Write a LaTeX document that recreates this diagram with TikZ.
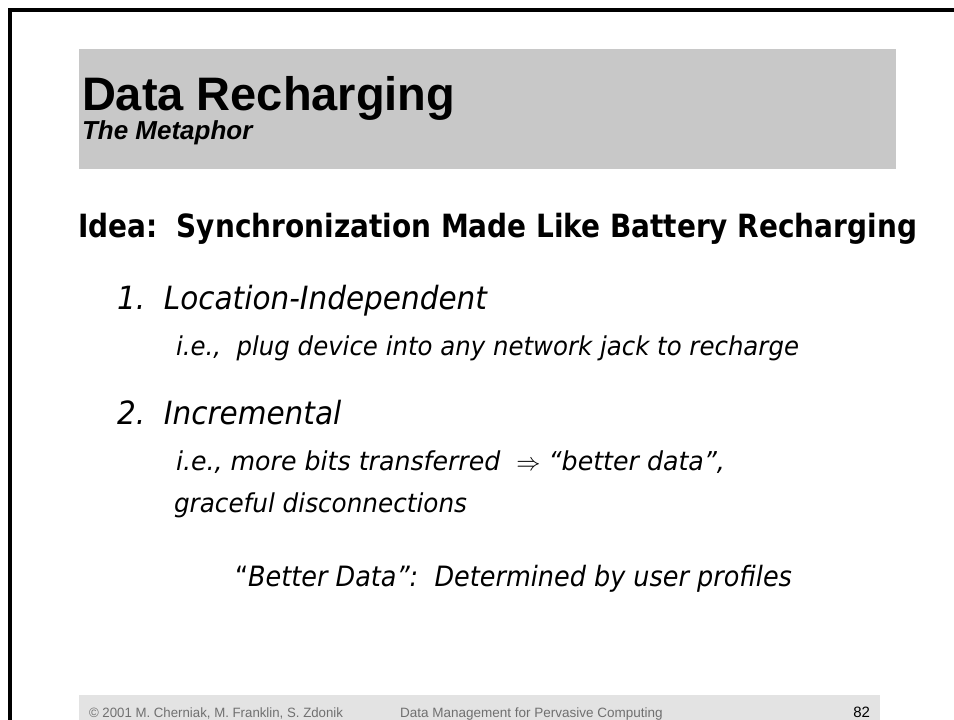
\documentclass[tikz,border=0pt]{standalone}
\usepackage{fontspec}
\usepackage{graphicx}
\setmainfont{DejaVu Sans}
\newfontfamily\arialfont{Liberation Sans}
\newcommand\fitw[2]{\resizebox{#1}{\height}{#2}}
\newlength\natw
\newcommand\itemfont{\itshape\fontsize{32}{38}\selectfont}
\newcommand\subfont{\itshape\fontsize{26}{31}\selectfont}
\newcommand\betfont{\fontsize{28}{34}\selectfont}
\definecolor{titlegray}{HTML}{C8C8C8}
\definecolor{footgray}{HTML}{E3E3E3}
\definecolor{foottext}{HTML}{707070}
\tikzset{
  txt/.style={inner sep=0pt, outer sep=0pt, anchor=base west},
  frameline/.style={line width=3.2pt, black},
}
\begin{document}
% horizontal factors (Comic-like widths) calibrated on measured lines
\settowidth\natw{\itemfont 1.\ \ Location-Independent}%
\pgfmathsetmacro\fitem{370/\natw}%
\settowidth\natw{\subfont i.e.,\ \ plug device into any network jack to recharge}%
\pgfmathsetmacro\fsub{623/\natw}%
\begin{tikzpicture}[x=1pt,y=-1pt]
\useasboundingbox (0,0) rectangle (954,720);
\fill[white] (0,0) rectangle (954,720);
% slide frame (cut off at right and bottom)
\draw[frameline] (10,720) -- (10,10) -- (960,10);
% title band
\fill[titlegray] (79,49) rectangle (896,169);
\node[txt] (title) at (82,110) {\arialfont\bfseries\fontsize{47}{56}\selectfont Data Recharging};
\node[txt] (sub) at (82,139) {\arialfont\bfseries\itshape\fontsize{26}{30}\selectfont The Metaphor};
% body
\node[txt] (idea) at (78,237) {\fitw{839pt}{\bfseries\fontsize{32}{38}\selectfont Idea:\ \ Synchronization Made Like Battery Recharging}};
\node[txt] (item1) at (117,309) {\scalebox{\fitem}[1]{\itemfont 1.\ \ Location-Independent}};
\node[txt] (plug) at (176,355) {\scalebox{\fsub}[1]{\subfont i.e.,\ \ plug device into any network jack to recharge}};
\node[txt] (item2) at (117,424) {\scalebox{\fitem}[1]{\itemfont 2.\ \ Incremental}};
\node[txt] (more) at (176,470) {\fitw{549pt}{\subfont i.e., more bits transferred \ $\Rightarrow$ “better data”,}};
\node[txt] (grace) at (174,512) {\fitw{293pt}{\subfont graceful disconnections}};
\node[txt] (better) at (235,586) {\fitw{557pt}{\betfont “\textit{Better Data”:\ \ Determined by user profiles}}};
% footer
\fill[footgray] (79,695) rectangle (880,720);
\node[txt, text=foottext] (copy) at (89,717) {\fitw{254pt}{\arialfont\fontsize{13.5}{16}\selectfont © 2001 M. Cherniak, M. Franklin, S. Zdonik}};
\node[txt, text=foottext] (course) at (400,717) {\arialfont\fontsize{13.5}{16}\selectfont Data Management for Pervasive Computing};
\node[txt, anchor=base east] (page) at (870,717) {\arialfont\fontsize{15}{18}\selectfont 82};
\end{tikzpicture}
\end{document}
